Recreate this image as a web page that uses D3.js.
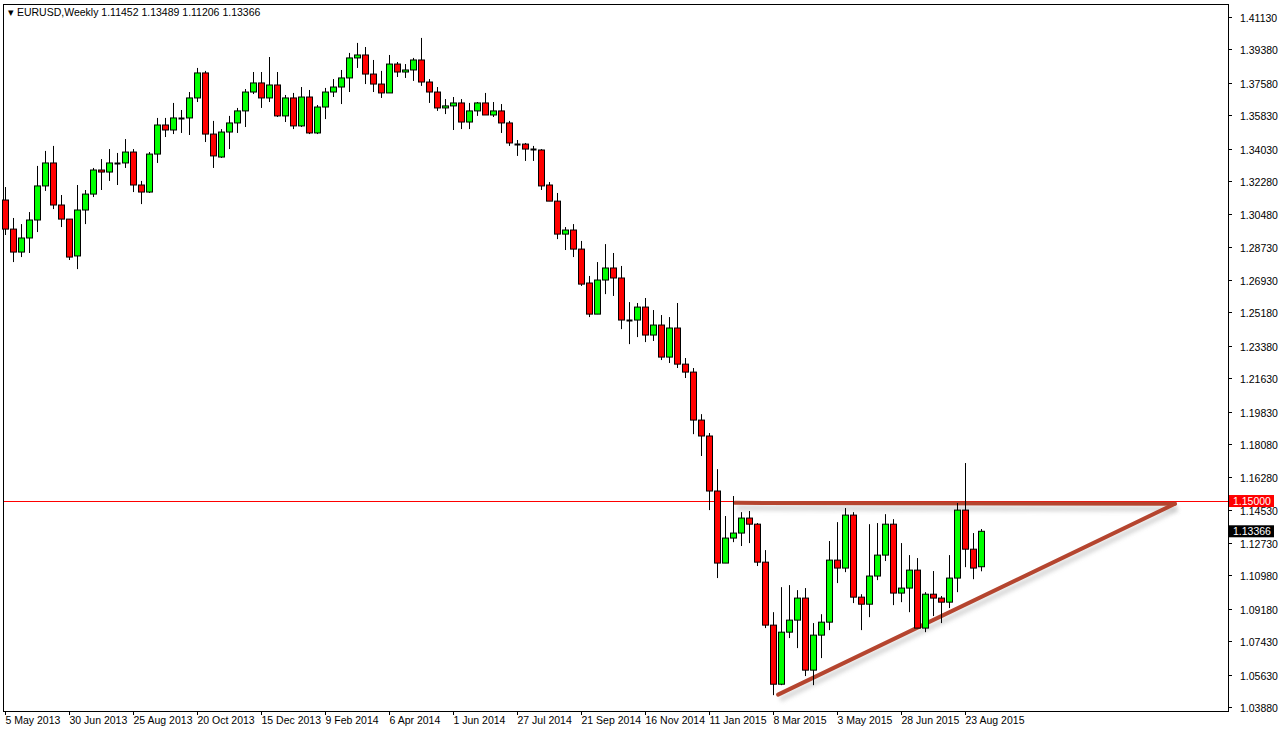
<!DOCTYPE html>
<html><head><meta charset="utf-8">
<script src="https://cdn.jsdelivr.net/npm/d3@7/dist/d3.min.js"></script>
<style>body{margin:0;background:#fff;overflow:hidden}text{font-family:"Liberation Sans",Arial,sans-serif}</style>
</head><body><svg id="c" width="1286" height="732"></svg>
<script>
// Weekly EURUSD candles (x 10000): [open, high, low, close]
const candles = [
[13125,13195,12936,12968],[12968,13028,12790,12844],[12844,12995,12817,12920],[12920,13060,12839,13017],
[13017,13309,12952,13201],[13201,13390,13174,13325],[13325,13417,13076,13098],[13098,13152,12979,13022],
[13022,13022,12801,12817],[12823,13206,12752,13071],[13071,13179,12995,13157],[13157,13298,13141,13287],
[13287,13346,13179,13276],[13276,13400,13228,13325],[13325,13379,13206,13327],[13325,13454,13298,13384],
[13384,13400,13168,13206],[13206,13228,13103,13168],[13168,13384,13163,13373],[13373,13568,13325,13530],
[13530,13568,13465,13503],[13503,13649,13481,13568],[13568,13611,13487,13570],[13568,13708,13476,13676],
[13676,13838,13654,13811],[13811,13822,13438,13481],[13481,13552,13298,13363],[13357,13508,13352,13492],
[13492,13579,13400,13541],[13541,13622,13487,13606],[13606,13724,13519,13708],[13708,13816,13697,13757],
[13757,13816,13622,13676],[13676,13897,13654,13746],[13746,13816,13573,13579],[13579,13692,13546,13676],
[13676,13703,13508,13525],[13525,13735,13519,13681],[13681,13719,13481,13487],[13487,13638,13481,13627],
[13627,13730,13562,13708],[13708,13778,13681,13735],[13735,13827,13643,13784],[13784,13919,13708,13892],
[13892,13973,13838,13908],[13908,13951,13751,13805],[13805,13881,13708,13751],[13751,13822,13676,13703],
[13703,13908,13703,13859],[13859,13870,13789,13816],[13816,13859,13784,13827],[13827,13892,13768,13881],
[13881,14000,13741,13762],[13762,13778,13649,13708],[13708,13735,13606,13622],[13622,13670,13589,13633],
[13633,13681,13503,13649],[13649,13670,13508,13546],[13546,13649,13508,13606],[13606,13654,13579,13649],
[13649,13703,13584,13584],[13584,13654,13573,13606],[13606,13643,13487,13541],[13541,13552,13417,13433],
[13427,13449,13363,13429],[13427,13433,13336,13400],[13400,13417,13336,13395],[13395,13400,13179,13201],
[13206,13222,13119,13119],[13119,13163,12914,12941],[12941,12979,12855,12963],[12963,12995,12817,12860],
[12860,12904,12661,12671],[12677,12715,12493,12509],[12509,12790,12509,12693],[12693,12887,12617,12758],
[12758,12839,12607,12704],[12704,12769,12428,12477],[12477,12574,12347,12479],[12477,12569,12385,12547],
[12547,12596,12358,12396],[12396,12531,12364,12450],[12450,12504,12261,12277],[12277,12493,12245,12434],
[12434,12569,12218,12239],[12239,12272,12164,12196],[12196,12218,11861,11937],[11937,11969,11743,11851],
[11851,11867,11451,11554],[11554,11672,11084,11165],[11165,11419,11165,11300],[11300,11527,11278,11327],
[11327,11440,11257,11408],[11408,11446,11273,11375],[11375,11381,11149,11170],[11170,11235,10814,10830],
[10830,10900,10452,10511],[10511,11035,10506,10792],[10792,11046,10760,10857],[10857,11019,10706,10976],
[10976,11030,10555,10587],[10587,10841,10506,10776],[10776,10889,10652,10846],[10846,11284,10803,11181],
[11181,11386,11057,11138],[11138,11462,11116,11424],[11424,11440,10949,10981],[10981,10997,10803,10943],
[10943,11375,10873,11095],[11095,11381,11073,11208],[11208,11429,11176,11375],[11375,11402,10938,11003],
[11003,11273,10954,11030],[11030,11208,10900,11127],[11127,11192,10814,10814],[10814,11008,10792,10997],
[10997,11122,10879,10976],[10976,10987,10841,10954],[10954,11208,10922,11084],[11084,11489,11008,11451],
[11451,11705,11143,11240],[11240,11327,11078,11138],[11145.2,11348.9,11120.6,11336.6]
];
const yTicks = ["1.41130","1.39380","1.37580","1.35830","1.34030","1.32280","1.30480","1.28730","1.26930","1.25180","1.23380","1.21630","1.19830","1.18080","1.16280","1.14530","1.12730","1.10980","1.09180","1.07430","1.05630","1.03880"];
const xLabels = ["5 May 2013","30 Jun 2013","25 Aug 2013","20 Oct 2013","15 Dec 2013","9 Feb 2014","6 Apr 2014","1 Jun 2014","27 Jul 2014","21 Sep 2014","16 Nov 2014","11 Jan 2015","8 Mar 2015","3 May 2015","28 Jun 2015","23 Aug 2015"];
const levelPrice = 1.15;
const lastPrice = 1.13366;
// drawn trendlines: [startIndex, startPrice, endIndex, endPrice]
const trendLines = [[91.2,1.1490,146.2,1.1485],[96.6,1.0455,146.2,1.1485]];

const svg = d3.select("#c");
const x = d3.scaleLinear().domain([0,122]).range([5.3,981.3]);
const y = d3.scaleLinear().domain([1.0388,1.4113]).range([707,17]);
const L=3,R=1228,T=4,B=711;

svg.append("rect").attr("x",L+0.5).attr("y",T+0.5).attr("width",R-L).attr("height",B-T).attr("fill","#fff").attr("stroke","#000").attr("stroke-width",1);

// y axis
const ya = svg.append("g").attr("transform",`translate(${R},0)`);
yTicks.forEach(t=>{
  const yy=Math.round(y(+t))+0.5;
  ya.append("line").attr("x1",0).attr("x2",4).attr("y1",yy).attr("y2",yy).attr("stroke","#000");
  ya.append("text").attr("x",12).attr("y",yy+4).attr("font-size",10.5).attr("fill","#000").text(t);
});
// x axis
xLabels.forEach((t,i)=>{
  const xx=Math.round(x(i*8))+0.5;
  svg.append("line").attr("x1",xx).attr("x2",xx).attr("y1",B).attr("y2",B+4).attr("stroke","#000");
  svg.append("text").attr("x",xx).attr("y",B+13).attr("font-size",10.5).attr("fill","#000").text(t);
});

// level line
const ly=Math.round(y(levelPrice));
svg.append("rect").attr("x",L+1).attr("y",ly).attr("width",R-L-1).attr("height",1).attr("fill","#ff0000");

// trendlines with shadow
trendLines.forEach(d=>{
  svg.append("line").attr("x1",x(d[0])+2).attr("y1",y(d[1])+5).attr("x2",x(d[2])+2).attr("y2",y(d[3])+5)
    .attr("stroke","#bbb").attr("stroke-width",5).attr("opacity",0.6).style("filter","blur(2px)");
});
trendLines.forEach(d=>{
  svg.append("line").attr("x1",x(d[0])).attr("y1",y(d[1])).attr("x2",x(d[2])).attr("y2",y(d[3]))
    .attr("stroke","#b5452f").attr("stroke-width",4).attr("stroke-linecap","round");
});

// candles
const g = svg.append("g");
candles.forEach((c,i)=>{
  const [o,h,l,cl]=c.map(v=>v/10000);
  const xx=Math.round(x(i))+0.5;
  g.append("line").attr("x1",xx).attr("x2",xx).attr("y1",y(h)).attr("y2",y(l)).attr("stroke","#000");
  const top=Math.min(y(o),y(cl)), ht=Math.abs(y(o)-y(cl));
  if(ht<1.5){
    g.append("line").attr("x1",xx-3).attr("x2",xx+3).attr("y1",Math.round(top)+0.5).attr("y2",Math.round(top)+0.5).attr("stroke","#000").attr("stroke-width",2);
  } else {
    g.append("rect").attr("x",xx-3).attr("y",top).attr("width",6).attr("height",ht)
      .attr("fill",cl>=o?"#00ff00":"#ff0000").attr("stroke","#000");
  }
});

// price boxes
function box(p,bg){
  const yy=y(p);
  svg.append("rect").attr("x",R+1).attr("y",yy-6).attr("width",45).attr("height",12).attr("fill",bg);
  svg.append("text").attr("x",R+5).attr("y",yy+4).attr("font-size",10.5).attr("fill","#fff").text(p.toFixed(5));
}
box(levelPrice,"#ff0000");
box(lastPrice,"#000");

// title
svg.append("text").attr("x",8).attr("y",16).attr("font-size",10.5).attr("fill","#000").text("▾ EURUSD,Weekly  1.11452 1.13489 1.11206 1.13366");
</script></body></html>
